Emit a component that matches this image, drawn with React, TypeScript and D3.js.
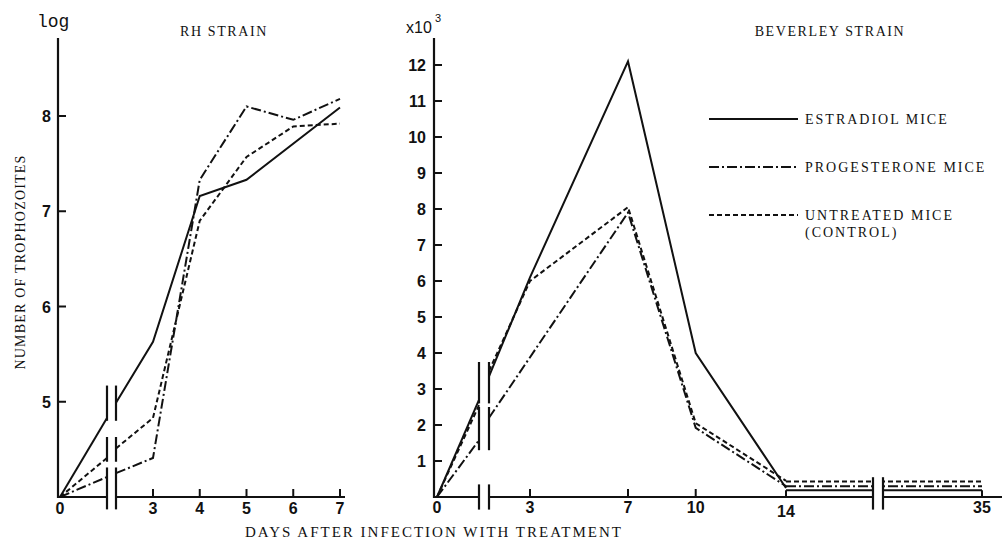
import React from 'react';
import * as d3 from 'd3';

// ---------- RH strain (log number of trophozoites) ----------
const rhPreDays = [0, 1];
const rhXTicks = [0, 3, 4, 5, 6, 7];
const rhYTicks = [5, 6, 7, 8];
const rhEstradiolPre = [4.0, 4.83];
const rhEstradiolPostDays = [2, 3, 4, 5, 7];
const rhEstradiolPost = [4.99, 5.63, 7.16, 7.33, 8.09];
const rhProgesteronePre = [4.0, 4.21];
const rhProgesteronePostDays = [2, 3, 4, 5, 6, 7];
const rhProgesteronePost = [4.25, 4.41, 7.33, 8.1, 7.96, 8.18];
const rhUntreatedPre = [4.0, 4.41];
const rhUntreatedPostDays = [2, 3, 4, 5, 6, 7];
const rhUntreatedPost = [4.51, 4.83, 6.9, 7.57, 7.89, 7.92];

// ---------- Beverley strain (x10^3 trophozoites) ----------
const bevPreDays = [0, 1];
const bevXTicks = [0, 3, 7, 10, 14, 35];
const bevYTicks = [1, 2, 3, 4, 5, 6, 7, 8, 9, 10, 11, 12];
const bevEstradiolPre = [0, 2.7];
const bevEstradiolPostDays = [2, 3, 7, 10, 14];
const bevEstradiolPost = [3.35, 6.1, 12.1, 4.0, 0.25];
const bevProgesteronePre = [0, 1.58];
const bevProgesteronePostDays = [2, 7, 10, 14];
const bevProgesteronePost = [2.2, 7.9, 1.92, 0.3];
const bevUntreatedPre = [0, 2.55];
const bevUntreatedPostDays = [2, 3, 7, 10, 14];
const bevUntreatedPost = [3.5, 6.0, 8.05, 2.05, 0.45];
const bevTailDays = [14, 35];
const bevEstradiolTail = [0.19, 0.19];
const bevProgesteroneTail = [0.3, 0.3];
const bevUntreatedTail = [0.43, 0.43];

const legendLabels = [['ESTRADIOL MICE'], ['PROGESTERONE MICE'], ['UNTREATED MICE', '(CONTROL)']];

const SERIF = '"Liberation Serif", "Times New Roman", serif';
const NUM = '"Liberation Sans Narrow", "Liberation Sans", Arial, sans-serif';
const INK = '#111';
const dashes = [null, '10,3,2,3', '5,3'];
const LW = 2;

export default function App() {
  // scales: left panel
  const xRhPre = d3.scaleLinear().domain([0, 1]).range([60, 107]);
  const xRhPost = d3.scaleLinear().domain([2, 3, 7]).range([116, 153, 340]);
  const yRh = d3.scaleLinear().domain([4, 8]).range([497, 116]);
  // scales: right panel
  const xBevPre = d3.scaleLinear().domain([0, 1]).range([437, 479]);
  const xBevPost = d3.scaleLinear().domain([2, 3, 7, 14]).range([489, 530, 628, 786]);
  const xBevTailA = d3.scaleLinear().domain([14, 35]).range([786, 1178]); // before break, clipped at break
  const xBevTailB = d3.scaleLinear().domain([14, 35]).range([600, 982]); // after break
  const yBev = d3.scaleLinear().domain([0, 12]).range([497, 65]);

  const rhX = (d: number) => (d <= 1 ? xRhPre(d) : xRhPost(d));
  const bevX = (d: number) => (d <= 1 ? xBevPre(d) : xBevPost(d));

  const mk = (xs: number[], ys: number[], fx: (d: number) => number, fy: (v: number) => number) =>
    d3.line<number>().x((_, i) => fx(xs[i])).y((v) => fy(v))(ys) || '';

  const rhSeries = [
    { pre: rhEstradiolPre, postD: rhEstradiolPostDays, post: rhEstradiolPost },
    { pre: rhProgesteronePre, postD: rhProgesteronePostDays, post: rhProgesteronePost },
    { pre: rhUntreatedPre, postD: rhUntreatedPostDays, post: rhUntreatedPost },
  ];
  const bevSeries = [
    { pre: bevEstradiolPre, postD: bevEstradiolPostDays, post: bevEstradiolPost, tail: bevEstradiolTail },
    { pre: bevProgesteronePre, postD: bevProgesteronePostDays, post: bevProgesteronePost, tail: bevProgesteroneTail },
    { pre: bevUntreatedPre, postD: bevUntreatedPostDays, post: bevUntreatedPost, tail: bevUntreatedTail },
  ];

  const breakTailStart = 873;
  const breakTailEnd = 883;

  // break bar spans (value units)
  const rhBreakSpans = [[4.8, 5.17], [4.37, 4.63], [3.87, 4.31]];
  const bevBreakSpans = [[2.6, 3.75], [1.3, 2.5], [-0.35, 0.35]];

  const lineStyle = (i: number) => ({
    fill: 'none',
    stroke: INK,
    strokeWidth: LW,
    strokeDasharray: dashes[i] || undefined,
    strokeLinejoin: 'miter' as const,
  });

  const numProps = { fontFamily: NUM, fontSize: 16, fontWeight: 700, fill: INK };

  return (
    <svg width={1002} height={542} style={{ position: 'absolute', left: 0, top: 0, background: '#fff' }}>
      <defs>
        <clipPath id="tailA"><rect x={780} y={0} width={breakTailStart - 780} height={542} /></clipPath>
        <clipPath id="tailB"><rect x={breakTailEnd} y={0} width={1002 - breakTailEnd} height={542} /></clipPath>
      </defs>

      {/* ---------------- LEFT PANEL ---------------- */}
      <text x={37} y={27} fontFamily='"Liberation Mono", "DejaVu Sans Mono", monospace' fontSize={18} fill={INK}>log</text>
      <text x={224} y={36} textAnchor="middle" fontFamily={SERIF} fontSize={14} letterSpacing={1.6} fill={INK}>RH STRAIN</text>
      {/* y axis */}
      <line x1={58} x2={58} y1={38} y2={498} stroke={INK} strokeWidth={2.2} />
      {rhYTicks.map((t) => (
        <g key={t}>
          <line x1={58} x2={66} y1={yRh(t)} y2={yRh(t)} stroke={INK} strokeWidth={2} />
          <text x={51} y={yRh(t) + 6} textAnchor="end" {...numProps}>{t}</text>
        </g>
      ))}
      {/* x axis with break */}
      <line x1={57} x2={107} y1={497} y2={497} stroke={INK} strokeWidth={2.2} />
      <line x1={116} x2={345} y1={497} y2={497} stroke={INK} strokeWidth={2.2} />
      {rhXTicks.map((t) => (
        <g key={t}>
          {t > 0 && <line x1={rhX(t)} x2={rhX(t)} y1={497} y2={489} stroke={INK} strokeWidth={2} />}
          <text x={rhX(t)} y={514} textAnchor="middle" {...numProps}>{t}</text>
        </g>
      ))}
      {rhBreakSpans.map((s, i) => (
        <g key={i}>
          <line x1={107} x2={107} y1={yRh(s[0])} y2={yRh(s[1])} stroke={INK} strokeWidth={2.2} />
          <line x1={116} x2={116} y1={yRh(s[0])} y2={yRh(s[1])} stroke={INK} strokeWidth={2.2} />
        </g>
      ))}
      {rhSeries.map((s, i) => (
        <g key={i}>
          <path d={mk(rhPreDays, s.pre, rhX, yRh)} style={lineStyle(i)} />
          <path d={mk(s.postD, s.post, rhX, yRh)} style={lineStyle(i)} />
        </g>
      ))}

      {/* y axis label */}
      <text transform="translate(25,262) rotate(-90)" textAnchor="middle" fontFamily={SERIF} fontSize={14} letterSpacing={1.2} fill={INK}>
        NUMBER OF TROPHOZOITES
      </text>

      {/* ---------------- RIGHT PANEL ---------------- */}
      <text x={406} y={33} {...numProps} fontWeight={400}>x10</text>
      <text x={435} y={22} {...numProps} fontWeight={400} fontSize={11}>3</text>
      <text x={830} y={36} textAnchor="middle" fontFamily={SERIF} fontSize={14} letterSpacing={1.6} fill={INK}>BEVERLEY STRAIN</text>
      <line x1={434} x2={434} y1={38} y2={498} stroke={INK} strokeWidth={2.2} />
      {bevYTicks.map((t) => (
        <g key={t}>
          <line x1={434} x2={442} y1={yBev(t)} y2={yBev(t)} stroke={INK} strokeWidth={2} />
          <text x={426} y={yBev(t) + 6} textAnchor="end" {...numProps}>{t}</text>
        </g>
      ))}
      <line x1={433} x2={479} y1={497} y2={497} stroke={INK} strokeWidth={2.2} />
      <line x1={489} x2={breakTailStart} y1={497} y2={497} stroke={INK} strokeWidth={2.2} />
      <line x1={breakTailEnd} x2={1002} y1={497} y2={497} stroke={INK} strokeWidth={2.2} />
      {bevXTicks.map((t) => {
        const x = t === 35 ? xBevTailB(t) : bevX(t);
        return (
          <g key={t}>
            {t > 0 && t < 14 && <line x1={x} x2={x} y1={497} y2={489} stroke={INK} strokeWidth={2} />}
            <text x={x} y={t === 14 ? 517 : 513} textAnchor="middle" {...numProps}>{t}</text>
          </g>
        );
      })}
      {bevBreakSpans.map((s, i) => (
        <g key={i}>
          <line x1={479} x2={479} y1={yBev(s[0])} y2={yBev(s[1])} stroke={INK} strokeWidth={2.2} />
          <line x1={489} x2={489} y1={yBev(s[0])} y2={yBev(s[1])} stroke={INK} strokeWidth={2.2} />
        </g>
      ))}
      <line x1={breakTailStart} x2={breakTailStart} y1={yBev(-0.35)} y2={yBev(0.55)} stroke={INK} strokeWidth={2.2} />
      <line x1={breakTailEnd} x2={breakTailEnd} y1={yBev(-0.35)} y2={yBev(0.55)} stroke={INK} strokeWidth={2.2} />

      {bevSeries.map((s, i) => (
        <g key={i}>
          <path d={mk(bevPreDays, s.pre, bevX, yBev)} style={lineStyle(i)} />
          <path d={mk(s.postD, s.post, bevX, yBev)} style={lineStyle(i)} />
          <path d={mk(bevTailDays, s.tail, xBevTailA, yBev)} style={lineStyle(i)} clipPath="url(#tailA)" />
          <path d={mk(bevTailDays, s.tail, xBevTailB, yBev)} style={lineStyle(i)} clipPath="url(#tailB)" />
        </g>
      ))}
      {/* estradiol tail brackets down to the axis */}
      <line x1={xBevPost(14)} x2={xBevPost(14)} y1={yBev(bevEstradiolTail[0])} y2={yBev(0)} stroke={INK} strokeWidth={LW} />
      <line x1={xBevTailB(35)} x2={xBevTailB(35)} y1={yBev(bevEstradiolTail[1])} y2={yBev(0)} stroke={INK} strokeWidth={LW} />

      {/* legend */}
      {legendLabels.map((lab, i) => {
        const y = 119 + i * 48;
        return (
          <g key={i}>
            <line x1={709} x2={798} y1={y} y2={y} style={lineStyle(i)} />
            {lab.map((t, j) => (
              <text key={j} x={805} y={y + 5 + j * 17} fontFamily={SERIF} fontSize={14} letterSpacing={2} fill={INK}>{t}</text>
            ))}
          </g>
        );
      })}

      {/* x axis label */}
      <text x={434} y={537} textAnchor="middle" fontFamily={SERIF} fontSize={15} letterSpacing={2} fill={INK}>
        DAYS AFTER INFECTION WITH TREATMENT
      </text>
    </svg>
  );
}
